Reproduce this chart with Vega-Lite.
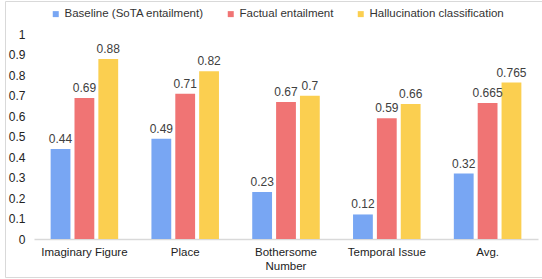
{
  "$schema": "https://vega.github.io/schema/vega-lite/v6.json",
  "autosize": "none",
  "width": 537,
  "height": 276,
  "padding": {"left": 5, "top": 1, "right": 0, "bottom": 2},
  "background": "white",
  "config": {
    "view": {"stroke": "#D9D9D9", "strokeWidth": 1},
    "font": "Liberation Sans"
  },
  "data": {
    "values": [
      {"category": "Imaginary Figure", "series": "Baseline (SoTA entailment)", "value": 0.44},
      {"category": "Imaginary Figure", "series": "Factual entailment", "value": 0.69},
      {"category": "Imaginary Figure", "series": "Hallucination classification", "value": 0.88},
      {"category": "Place", "series": "Baseline (SoTA entailment)", "value": 0.49},
      {"category": "Place", "series": "Factual entailment", "value": 0.71},
      {"category": "Place", "series": "Hallucination classification", "value": 0.82},
      {"category": "Bothersome Number", "series": "Baseline (SoTA entailment)", "value": 0.23},
      {"category": "Bothersome Number", "series": "Factual entailment", "value": 0.67},
      {"category": "Bothersome Number", "series": "Hallucination classification", "value": 0.7},
      {"category": "Temporal Issue", "series": "Baseline (SoTA entailment)", "value": 0.12},
      {"category": "Temporal Issue", "series": "Factual entailment", "value": 0.59},
      {"category": "Temporal Issue", "series": "Hallucination classification", "value": 0.66},
      {"category": "Avg.", "series": "Baseline (SoTA entailment)", "value": 0.32},
      {"category": "Avg.", "series": "Factual entailment", "value": 0.665},
      {"category": "Avg.", "series": "Hallucination classification", "value": 0.765}
    ]
  },
  "encoding": {
    "x": {
      "field": "category",
      "type": "nominal",
      "sort": ["Imaginary Figure", "Place", "Bothersome Number", "Temporal Issue", "Avg."],
      "scale": {"range": [29, 533], "paddingInner": 0.33, "paddingOuter": 0.165},
      "axis": {
        "orient": "bottom",
        "offset": -38,
        "title": null,
        "domainColor": "#D9D9D9",
        "domainWidth": 1.5,
        "ticks": false,
        "tickSize": 0,
        "labelPadding": 7,
        "labelAngle": 0,
        "labelFontSize": 11.5,
        "labelColor": "#222222",
        "labelLineHeight": 14,
        "labelExpr": "datum.label == 'Bothersome Number' ? ['Bothersome', 'Number'] : datum.label"
      }
    },
    "xOffset": {
      "field": "series",
      "sort": ["Baseline (SoTA entailment)", "Factual entailment", "Hallucination classification"],
      "scale": {"paddingInner": 0.17}
    },
    "y": {
      "field": "value",
      "type": "quantitative",
      "scale": {"domain": [0, 1], "range": [238, 33.5], "nice": false},
      "axis": {
        "orient": "left",
        "offset": -20,
        "title": null,
        "domain": false,
        "ticks": false,
        "tickSize": 0,
        "grid": false,
        "labelPadding": 0,
        "values": [0, 0.1, 0.2, 0.3, 0.4, 0.5, 0.6, 0.7, 0.8, 0.9, 1],
        "format": ".1~f",
        "labelFontSize": 12,
        "labelColor": "#222222"
      }
    }
  },
  "layer": [
    {
      "mark": {"type": "bar"},
      "encoding": {
        "color": {
          "field": "series",
          "type": "nominal",
          "scale": {
            "domain": ["Baseline (SoTA entailment)", "Factual entailment", "Hallucination classification"],
            "range": ["#78A6F3", "#F07474", "#FBCF50"]
          },
          "legend": {
            "orient": "none",
            "legendX": 45,
            "legendY": 7,
            "direction": "horizontal",
            "title": null,
            "symbolType": "square",
            "symbolSize": 36,
            "symbolStrokeWidth": 0,
            "labelFontSize": 11.5,
            "labelColor": "#333333",
            "labelOffset": 3,
            "columnPadding": 21
          }
        }
      }
    },
    {
      "mark": {"type": "text", "baseline": "bottom", "dy": -3, "fontSize": 12, "color": "#404040"},
      "encoding": {
        "text": {"field": "value", "type": "quantitative"}
      }
    }
  ]
}
